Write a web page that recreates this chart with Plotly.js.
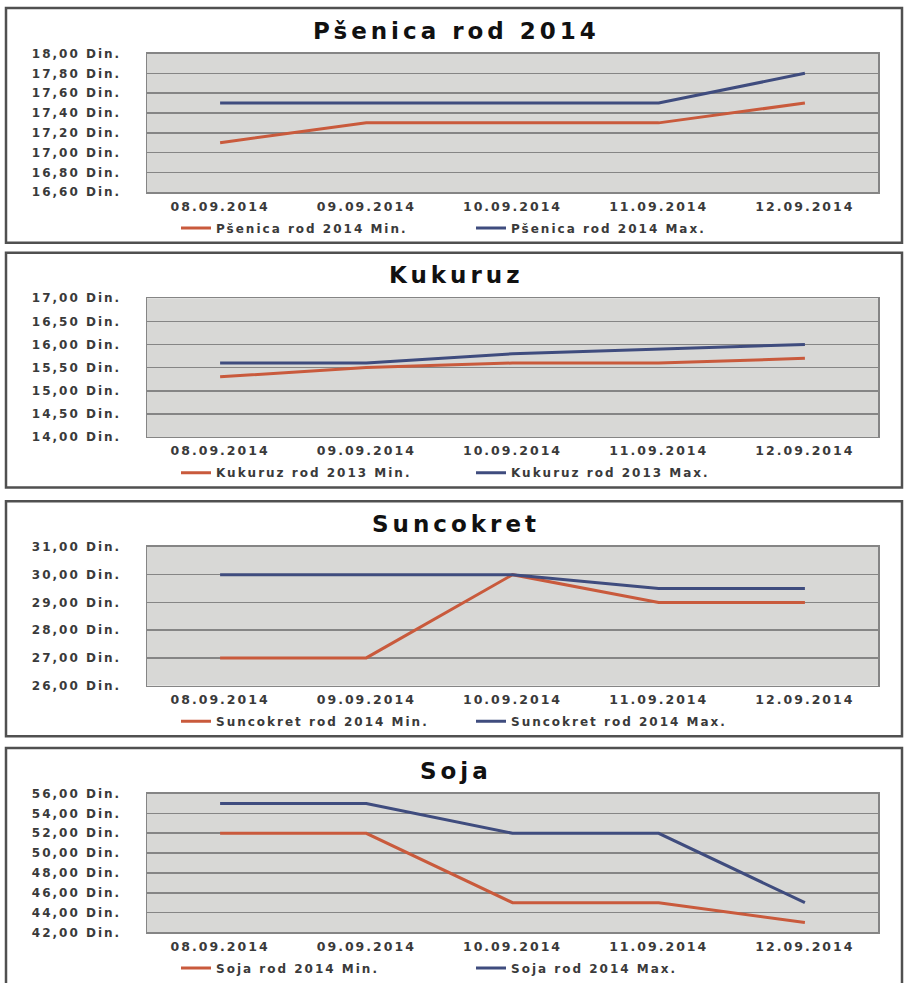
<!DOCTYPE html>
<html>
<head>
<meta charset="utf-8">
<script src="https://cdn.plot.ly/plotly-3.0.1.min.js"></script>
<style>
  html, body { margin: 0; padding: 0; background: #ffffff; }
  #chart { width: 906px; height: 983px; }
  svg text { letter-spacing: 2px; }
  svg text.annotation-text { letter-spacing: 4px; }
</style>
</head>
<body>
<div id="chart"></div>
<script>
// ---- data ----
const dates = ['08.09.2014', '09.09.2014', '10.09.2014', '11.09.2014', '12.09.2014'];

const psenicaMin = [17.10, 17.30, 17.30, 17.30, 17.50];
const psenicaMax = [17.50, 17.50, 17.50, 17.50, 17.80];

const kukuruzMin = [15.30, 15.50, 15.60, 15.60, 15.70];
const kukuruzMax = [15.60, 15.60, 15.80, 15.90, 16.00];

const suncokretMin = [27.00, 27.00, 30.00, 29.00, 29.00];
const suncokretMax = [30.00, 30.00, 30.00, 29.50, 29.50];

const sojaMin = [52.00, 52.00, 45.00, 45.00, 43.00];
const sojaMax = [55.00, 55.00, 52.00, 52.00, 45.00];

const chartTitles = ['Pšenica rod 2014', 'Kukuruz', 'Suncokret', 'Soja'];
const minNames = ['Pšenica rod 2014 Min.', 'Kukuruz rod 2013 Min.', 'Suncokret rod 2014 Min.', 'Soja rod 2014 Min.'];
const maxNames = ['Pšenica rod 2014 Max.', 'Kukuruz rod 2013 Max.', 'Suncokret rod 2014 Max.', 'Soja rod 2014 Max.'];
const minSeries = [psenicaMin, kukuruzMin, suncokretMin, sojaMin];
const maxSeries = [psenicaMax, kukuruzMax, suncokretMax, sojaMax];
const yRanges = [[16.6, 18.0], [14.0, 17.0], [26.0, 31.0], [42.0, 56.0]];
const yDticks = [0.2, 0.5, 1.0, 2.0];

// ---- layout geometry (pixels) ----
const W = 906, H = 983;
const px = v => v / W;
const py = v => 1 - v / H;
const panelTops = [8, 255, 506, 755];
const plotLeft = 147, plotRight = 878;

const orange = '#c95a3c';
const blue = '#3f4c7e';
const yTickFont = { family: 'DejaVu Sans', size: 12, color: '#3a3a3a', weight: 'bold' };
const xTickFont = { family: 'DejaVu Sans', size: 12.5, color: '#3a3a3a', weight: 'bold' };

const traces = [];
const layout = {
  width: W, height: H,
  margin: { l: 0, r: 0, t: 0, b: 0 },
  paper_bgcolor: '#ffffff',
  plot_bgcolor: '#d8d8d6',
  separators: ',.',
  font: { family: 'DejaVu Sans', color: '#3a3a3a' },
  shapes: [],
  annotations: []
};

for (let i = 0; i < 4; i++) {
  const n = i === 0 ? '' : String(i + 1);
  const T = panelTops[i];
  const legendId = 'legend' + n;

  traces.push({
    type: 'scatter', mode: 'lines', x: dates, y: minSeries[i], name: minNames[i],
    line: { color: orange, width: 3 }, xaxis: 'x' + n, yaxis: 'y' + n, legend: legendId
  });
  traces.push({
    type: 'scatter', mode: 'lines', x: dates, y: maxSeries[i], name: maxNames[i],
    line: { color: blue, width: 3 }, xaxis: 'x' + n, yaxis: 'y' + n, legend: legendId
  });

  layout['xaxis' + n] = {
    domain: [px(plotLeft), px(plotRight)],
    anchor: 'y' + n,
    type: 'category',
    range: [-0.5, 4.5],
    showgrid: false, zeroline: false,
    showline: true, mirror: true, linecolor: '#858585', linewidth: 1.5,
    ticks: '', tickfont: xTickFont, ticklabelstandoff: 2,
    fixedrange: true
  };
  layout['yaxis' + n] = {
    domain: [py(T + 186), py(T + 46)],
    anchor: 'x' + n,
    range: yRanges[i],
    tick0: yRanges[i][0], dtick: yDticks[i],
    tickformat: '.2f', ticksuffix: ' Din.',
    showgrid: true, gridcolor: '#858585', gridwidth: 1.6,
    zeroline: false,
    showline: true, mirror: true, linecolor: '#858585', linewidth: 1.5,
    ticks: '', tickfont: yTickFont, ticklabelstandoff: 22,
    fixedrange: true
  };
  layout[legendId] = {
    orientation: 'h',
    x: px(176), xanchor: 'left',
    y: py(T + 222), yanchor: 'middle',
    bgcolor: 'rgba(0,0,0,0)',
    entrywidth: 250, entrywidthmode: 'pixels',
    font: { family: 'DejaVu Sans', size: 12, color: '#3a3a3a', weight: 'bold' }
  };
  layout.annotations.push({
    xref: 'paper', yref: 'paper', x: px(456), y: py(T + 23),
    xanchor: 'center', yanchor: 'middle', showarrow: false,
    text: chartTitles[i],
    font: { family: 'DejaVu Sans', size: 23, color: '#111111', weight: 'bold' }
  });
  layout.shapes.push({
    type: 'rect', xref: 'paper', yref: 'paper',
    x0: px(6), x1: px(902), y0: py(T + (i === 3 ? 260 : 237)), y1: py(T),
    line: { color: '#505050', width: 2.5 }, fillcolor: 'rgba(0,0,0,0)', layer: 'above'
  });
}

Plotly.newPlot('chart', traces, layout, { displayModeBar: false, staticPlot: true });
</script>
</body>
</html>
